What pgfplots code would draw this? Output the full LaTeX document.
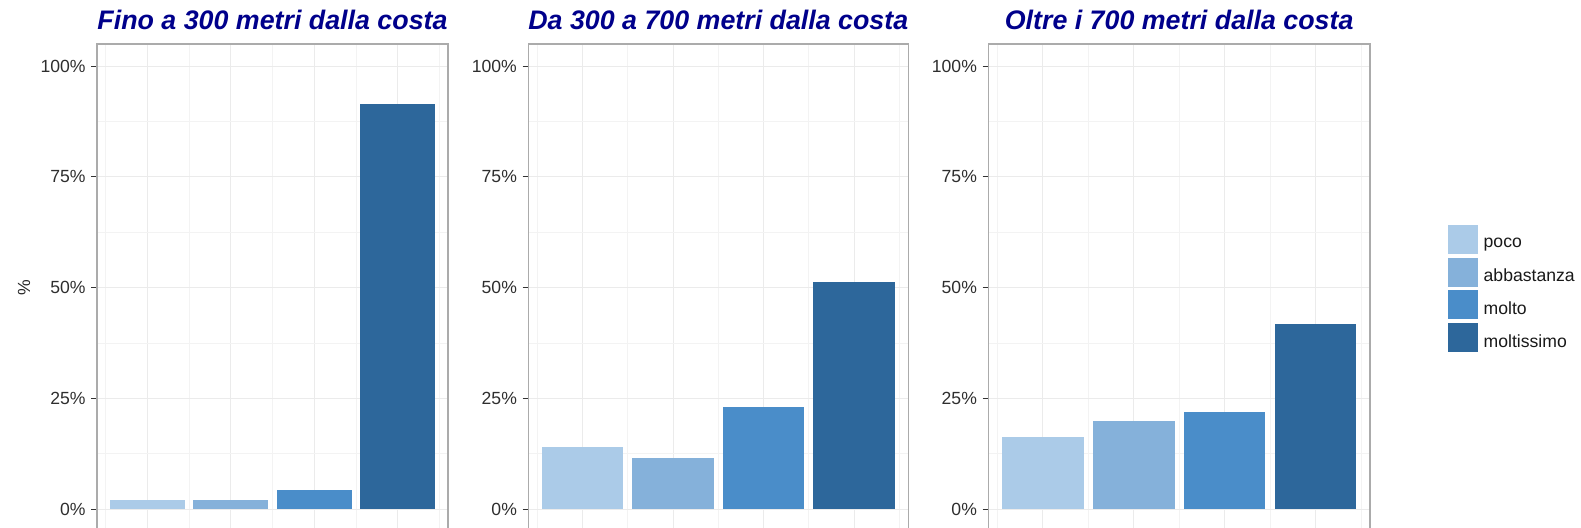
\documentclass[border=0pt]{standalone}
\usepackage{fontspec}
\setmainfont{Liberation Sans}
\usepackage{pgfplots}
\pgfplotsset{compat=1.18}
\definecolor{poco}{HTML}{ABCBE8}
\definecolor{abba}{HTML}{85B1DA}
\definecolor{molto}{HTML}{4A8DC9}
\definecolor{moltis}{HTML}{2D679B}
\definecolor{ttl}{HTML}{00008B}
\definecolor{brd}{HTML}{ABABAB}
\definecolor{grd}{HTML}{EBEBEB}
\definecolor{grdm}{HTML}{F3F3F3}

\pgfplotsset{
 every axis title shift=0pt,
 panel/.style={
  scale only axis, height=243.65pt, ymin=-5, ymax=105, xmin=0.4, xmax=4.6,
  anchor=south west,
  ybar, bar width=0.9,
  ytick={0,25,50,75,100}, yticklabels={0\%,25\%,50\%,75\%,100\%},
  minor ytick={12.5,37.5,62.5,87.5},
  xtick={1,2,3,4}, xticklabels={}, minor xtick={0.5,1.5,2.5,3.5,4.5},
  grid=both,
  major grid style={draw=grd, line width=0.5pt},
  minor grid style={draw=grdm, line width=0.35pt},
  tick align=outside, tick pos=left, major tick length=2.85pt, minor tick length=0pt,
  tick style={draw=black!80, line width=0.5pt},
  axis line style={draw=brd, line width=0.7pt},
  yticklabel style={font=\fontsize{8.8}{10}\selectfont, text=black!82, inner sep=0pt, xshift=-2.65pt},
  title style={font=\fontsize{13.4}{16}\selectfont\bfseries\itshape, text=ttl, anchor=base, at={(0.5,1)}, yshift=7pt},
 }
}

\begin{document}
\begin{tikzpicture}
\useasboundingbox (0,0) rectangle (790.5pt,263.5pt);
\clip (0,0) rectangle (790.5pt,263.5pt);

\begin{axis}[panel, at={(48.5pt,-2.075pt)}, width=175.5pt,
  title={Fino a 300 metri dalla costa},
  ylabel={\%}, ylabel style={at={(axis description cs:-0.208,0.5)}, anchor=center, font=\fontsize{8.8}{10}\selectfont, text=black!85}]
\addplot[fill=poco, draw=none, bar shift=0pt] coordinates {(1,2.0)};
\addplot[fill=abba, draw=none, bar shift=0pt] coordinates {(2,2.0)};
\addplot[fill=molto, draw=none, bar shift=0pt] coordinates {(3,4.3)};
\addplot[fill=moltis, draw=none, bar shift=0pt] coordinates {(4,91.4)};
\end{axis}

\begin{axis}[panel, at={(264.15pt,-2.075pt)}, width=190pt,
  title={Da 300 a 700 metri dalla costa}]
\addplot[fill=poco, draw=none, bar shift=0pt] coordinates {(1,14.0)};
\addplot[fill=abba, draw=none, bar shift=0pt] coordinates {(2,11.6)};
\addplot[fill=molto, draw=none, bar shift=0pt] coordinates {(3,23.0)};
\addplot[fill=moltis, draw=none, bar shift=0pt] coordinates {(4,51.3)};
\end{axis}

\begin{axis}[panel, at={(494.15pt,-2.075pt)}, width=190.85pt,
  title={Oltre i 700 metri dalla costa},
  legend cell align=left,
  legend image code/.code={\fill[#1] (0pt,-4.95pt) rectangle (15pt,9.55pt);},
  legend style={at={(1.2036,0.6283)}, anchor=north west, draw=none, fill=none,
    inner sep=0pt, outer sep=0pt, row sep=1.85pt,
    font=\fontsize{8.8}{10}\selectfont, text=black!90,
    nodes={inner sep=0pt},
    /tikz/every odd column/.append style={column sep=3pt}}]
\addplot[fill=poco, draw=none, bar shift=0pt] coordinates {(1,16.2)};
\addplot[fill=abba, draw=none, bar shift=0pt] coordinates {(2,19.9)};
\addplot[fill=molto, draw=none, bar shift=0pt] coordinates {(3,21.8)};
\addplot[fill=moltis, draw=none, bar shift=0pt] coordinates {(4,41.8)};
\legend{poco, abbastanza, molto, moltissimo}
\end{axis}
\end{tikzpicture}
\end{document}
